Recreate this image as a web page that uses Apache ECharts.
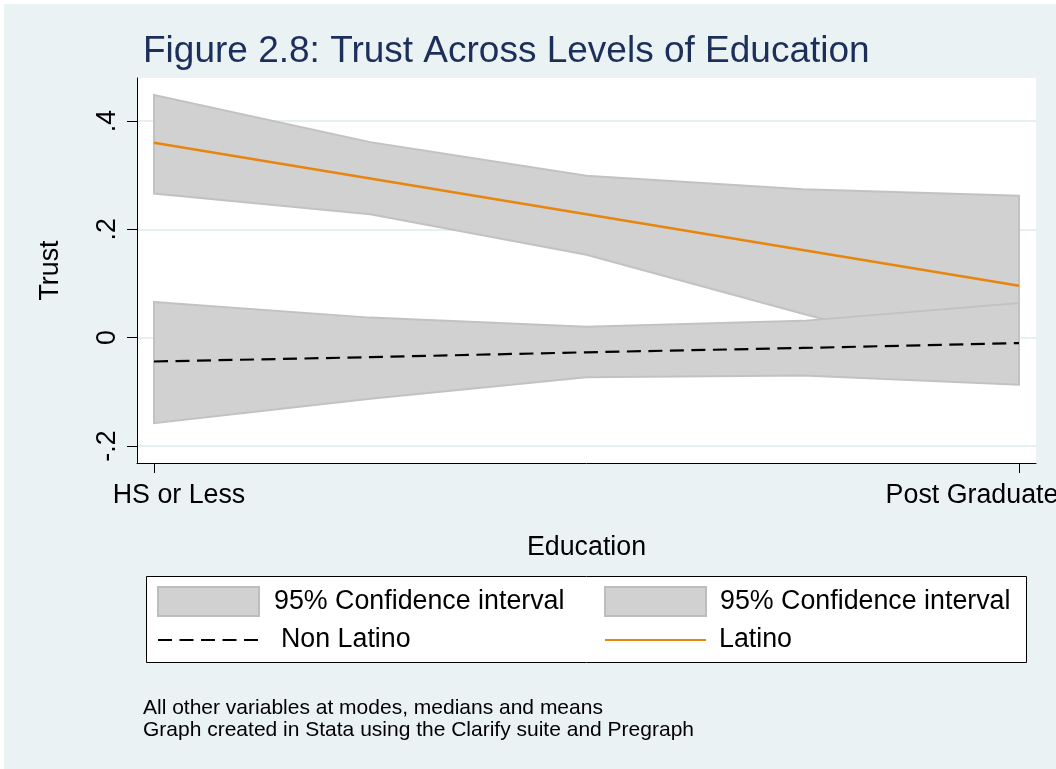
<!DOCTYPE html>
<html>
<head>
<meta charset="utf-8">
<title>Trust Across Levels of Education</title>
<script src="https://cdn.jsdelivr.net/npm/echarts@6/dist/echarts.min.js"></script>
<style>
  html, body { margin: 0; padding: 0; background: #fff; }
  #chart { position: absolute; left: 0; top: 0; width: 1056px; height: 769px; }
  /* thin white frame on the top and left edge, as in the exported Stata graph */
  #edge { position: absolute; left: 0; top: 0; width: 1056px; height: 769px; box-sizing: border-box;
          border-top: 4px solid #fff; border-left: 4px solid #fff; pointer-events: none; }
</style>
</head>
<body>
<div id="chart"></div>
<div id="edge"></div>
<script>
// education levels (only the two ends are labelled)
const education = [0, 1, 2, 3, 4];
const educationLabels = { 0: 'HS or Less', 4: 'Post Graduate' };

// y ticks
const trustTicks = [-0.2, 0, 0.2, 0.4];
const trustTickLabels = ['-.2', '0', '.2', '.4'];

// Latino
const latino   = [0.360, 0.294, 0.228, 0.162, 0.096];
const latinoHi = [0.448, 0.361, 0.299, 0.274, 0.262];
const latinoLo = [0.266, 0.228, 0.153, 0.044, -0.060];

// Non Latino
const nonLatino   = [-0.044, -0.036, -0.027, -0.019, -0.010];
const nonLatinoHi = [0.066, 0.037, 0.020, 0.031, 0.064];
const nonLatinoLo = [-0.158, -0.113, -0.073, -0.070, -0.087];

const footnotes = [
  'All other variables at modes, medians and means',
  'Graph created in Stata using the Clarify suite and Pregraph'
];

const FONT = "'Liberation Sans', Arial, Helvetica, sans-serif";
const TXT = 26.8;
const BAND_FILL = '#d1d1d1';
const BAND_EDGE = '#c2c2c2';
const ORANGE = '#e8850c';

const chart = echarts.init(document.getElementById('chart'));

// whole confidence band as one polygon (upper edge left->right, lower edge back)
function bandRenderer(lo, hi) {
  return function (params, api) {
    if (params.dataIndex !== 0) return;
    const pts = [];
    for (let i = 0; i < education.length; i++) pts.push(api.coord([education[i], hi[i]]));
    for (let i = education.length - 1; i >= 0; i--) pts.push(api.coord([education[i], lo[i]]));
    return {
      type: 'polygon',
      shape: { points: pts },
      style: { fill: BAND_FILL, stroke: BAND_EDGE, lineWidth: 2 }
    };
  };
}

function txt(extra) {
  return Object.assign({ fontSize: TXT, fontFamily: FONT, color: '#000' }, extra);
}

const legendLabels = {
  ciNon: '{a|95% Confidence interval}',
  'Non Latino': '{b|Non Latino}',
  ciLat: '{c|95% Confidence interval}',
  Latino: '{d|Latino}'
};
const legendText = txt({
  rich: {
    a: txt({ padding: [0, 0, 0, 10] }),
    b: txt({ padding: [0, 0, 0, 17] }),
    c: txt({ padding: [0, 0, 0, 9] }),
    d: txt({ padding: [0, 0, 0, 8] })
  }
});
const bandIcon = { color: BAND_FILL, borderColor: '#bdbdbd', borderWidth: 2 };
// line items: keep the line, hide the legend symbol
const noSymbol = { color: 'rgba(0,0,0,0)', opacity: 0, borderWidth: 0 };

const option = {
  animation: false,
  backgroundColor: '#eaf2f3',
  title: {
    text: 'Figure 2.8: Trust Across Levels of Education',
    left: 143,
    top: 33,
    padding: 0,
    textStyle: { fontSize: 37, fontWeight: 'normal', fontFamily: FONT, color: '#1c2f5b' }
  },
  grid: {
    left: 137, right: 20, top: 78, bottom: 306,
    outerBoundsMode: 'none',
    show: true, backgroundColor: '#fff', borderWidth: 0
  },
  xAxis: {
    type: 'value',
    min: -0.0786,
    max: 4.0786,
    name: 'Education',
    nameLocation: 'middle',
    nameGap: 71,
    nameTextStyle: txt(),
    axisLine: { onZero: false, lineStyle: { color: '#000', width: 1 } },
    axisTick: { customValues: [0, 4], length: 10, lineStyle: { color: '#000', width: 1 } },
    axisLabel: {
      customValues: [0, 4],
      margin: 19,
      formatter: v => (v === 0 ? '{l|' : '{r|') + educationLabels[v] + '}',
      rich: {
        l: txt({ padding: [0, 0, 0, 50] }),
        r: txt({ padding: [0, 94, 0, 0] })
      }
    },
    splitLine: { show: false }
  },
  yAxis: {
    type: 'value',
    min: -0.2314,
    max: 0.4794,
    name: 'Trust',
    nameLocation: 'middle',
    nameGap: 73,
    nameTextStyle: txt(),
    axisLine: { show: true, onZero: false, lineStyle: { color: '#000', width: 1 } },
    axisTick: { show: true, customValues: trustTicks, length: 10, lineStyle: { color: '#000', width: 1 } },
    axisLabel: txt({
      customValues: trustTicks,
      rotate: 90,
      margin: 16,
      formatter: v => trustTickLabels[trustTicks.findIndex(t => Math.abs(t - v) < 1e-9)]
    }),
    splitLine: { show: true, lineStyle: { color: '#e6eff1', width: 2 } }
  },
  legend: [
    {
      orient: 'vertical', left: 157, top: 586, padding: 0,
      itemWidth: 101, itemHeight: 29, itemGap: 9.5, selectedMode: false,
      data: [
        { name: 'ciNon', icon: 'rect', itemStyle: bandIcon },
        { name: 'Non Latino', itemStyle: noSymbol }
      ],
      formatter: name => legendLabels[name],
      textStyle: legendText
    },
    {
      orient: 'vertical', left: 604, top: 586, padding: 0,
      itemWidth: 101, itemHeight: 29, itemGap: 9.5, selectedMode: false,
      data: [
        { name: 'ciLat', icon: 'rect', itemStyle: bandIcon },
        { name: 'Latino', itemStyle: noSymbol }
      ],
      formatter: name => legendLabels[name],
      textStyle: legendText
    }
  ],
  graphic: [
    {
      type: 'rect', z: 0,
      shape: { x: 146.5, y: 576.5, width: 880, height: 86 },
      style: { fill: '#fff', stroke: '#000', lineWidth: 1 }
    },
    {
      type: 'text', x: 143, y: 697,
      style: { text: footnotes.join('\n'), fontSize: 21, lineHeight: 22, fontFamily: FONT, fill: '#000', verticalAlign: 'top' }
    }
  ],
  series: [
    {
      name: 'ciLat', type: 'custom', z: 1,
      renderItem: bandRenderer(latinoLo, latinoHi),
      data: education.map((x, i) => [x, latinoLo[i], latinoHi[i]]),
      encode: { x: 0, y: [1, 2] },
      itemStyle: { color: BAND_FILL }
    },
    {
      name: 'ciNon', type: 'custom', z: 1,
      renderItem: bandRenderer(nonLatinoLo, nonLatinoHi),
      data: education.map((x, i) => [x, nonLatinoLo[i], nonLatinoHi[i]]),
      encode: { x: 0, y: [1, 2] },
      itemStyle: { color: BAND_FILL }
    },
    {
      name: 'Non Latino', type: 'line', z: 3, symbol: 'none',
      data: education.map((x, i) => [x, nonLatino[i]]),
      itemStyle: { color: '#000' },
      lineStyle: { color: '#000', width: 2.2, type: [14, 7.5] }
    },
    {
      name: 'Latino', type: 'line', z: 3, symbol: 'none',
      data: education.map((x, i) => [x, latino[i]]),
      itemStyle: { color: ORANGE },
      lineStyle: { color: ORANGE, width: 2.5 }
    }
  ]
};

chart.setOption(option);
window.addEventListener('resize', () => chart.resize());
</script>
</body>
</html>
